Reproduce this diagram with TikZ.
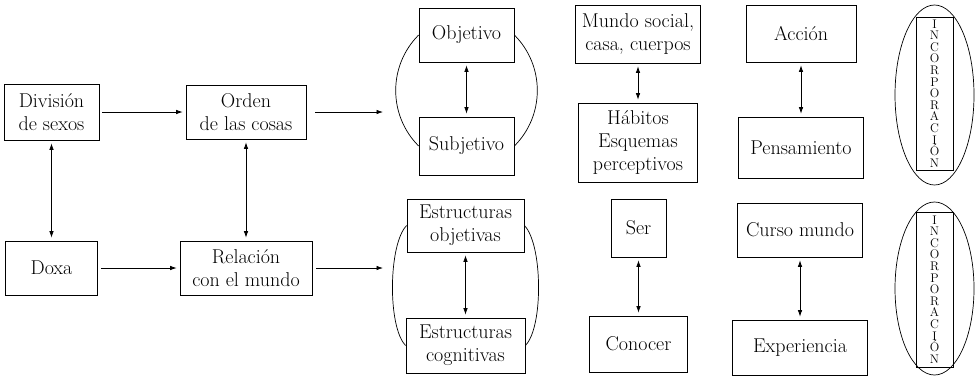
\documentclass[tikz,border=0pt]{standalone}
\usepackage{fontspec}
\usetikzlibrary{arrows, arrows.meta, positioning, shapes.geometric}

\begin{document}
\begin{tikzpicture}
  [x=1pt, y=-1pt, >={Latex[length=6.5pt, width=4.5pt]}, line width=0.7pt,
   caja/.style={draw, fill=white, align=center, inner sep=0pt,
     font=\fontsize{20}{23}\selectfont},
   vert/.style={draw, align=center, inner sep=0pt,
     font=\fontsize{12.5}{11.6}\selectfont},
   doble/.style={<->, shorten <=3pt, shorten >=3pt},
   paso/.style={->, shorten <=3pt, shorten >=3pt}]
  \useasboundingbox (0,0) rectangle (976,376);

  % primeras columnas
  \node (div) at (51.5,112) [caja, minimum width=95pt, minimum height=56pt] {División\\de sexos};
  \node (doxa) at (51.5,268) [caja, minimum width=92pt, minimum height=54pt] {Doxa};
  \node (orden) at (246,112) [caja, minimum width=120pt, minimum height=54pt] {Orden\\de las cosas};
  \node (rel) at (246,268) [caja, minimum width=132pt, minimum height=54pt] {Relación\\con el mundo};
  \coordinate (ent1) at (383,112);
  \coordinate (ent2) at (383,268);

  \draw [paso] (div) to (orden);
  \draw [paso] (doxa) to (rel);
  \draw [doble] (div) to (doxa);
  \draw [doble] (orden) to (rel);
  \draw [->, shorten <=9pt] (orden) to (ent1);
  \draw [->, shorten <=4pt] (rel) to (ent2);

  % pares con arcos
  \node (obj) at (466.5,35) [caja, minimum width=95pt, minimum height=54pt] {Objetivo};
  \node (subj) at (466.5,146) [caja, minimum width=95pt, minimum height=58pt] {Subjetivo};
  \node (eobj) at (465.5,225.5) [caja, minimum width=117pt, minimum height=53pt] {Estructuras\\objetivas};
  \node (ecog) at (465.5,345.5) [caja, minimum width=119pt, minimum height=55pt] {Estructuras\\cognitivas};
  \draw [doble] (obj) to (subj);
  \draw [doble] (eobj) to (ecog);
  \draw (obj.west) to [out=225, in=135] (subj.west);
  \draw (obj.east) to [out=-45, in=45] (subj.east);
  \draw (eobj.west) to [out=225, in=135, looseness=0.55] (ecog.west);
  \draw (eobj.east) to [out=-45, in=45, looseness=0.55] (ecog.east);

  % columnas de la derecha
  \node (mundo) at (638,34) [caja, minimum width=125pt, minimum height=58pt] {Mundo social,\\casa, cuerpos};
  \node (habitos) at (638,142.5) [caja, minimum width=119pt, minimum height=79pt] {Hábitos\\Esquemas\\perceptivos};
  \node (ser) at (638.5,228) [caja, minimum width=55pt, minimum height=58pt] {Ser};
  \node (conocer) at (638.5,344) [caja, minimum width=98pt, minimum height=56pt] {Conocer};
  \draw [doble] (mundo) to (habitos);
  \draw [doble] (ser) to (conocer);

  \node (accion) at (801,33.5) [caja, minimum width=110pt, minimum height=57pt] {Acción};
  \node (pens) at (801,147.5) [caja, minimum width=125pt, minimum height=61pt] {Pensamiento};
  \node (curso) at (800,230) [caja, minimum width=125pt, minimum height=54pt] {Curso mundo};
  \node (exp) at (800,347.5) [caja, minimum width=135pt, minimum height=55pt] {Experiencia};
  \draw [doble] (accion) to (pens);
  \draw [doble] (curso) to (exp);

  % incorporacion
  \node (elip1) at (934.5,95) [ellipse, draw, inner sep=0pt, minimum width=79pt, minimum height=180pt] {};
  \node (inc1) at (934.5,93.5) [vert, minimum width=37pt, minimum height=153pt] {I\\N\\C\\O\\R\\P\\O\\R\\A\\C\\I\\Ó\\N};
  \node (elip2) at (934.5,288.5) [ellipse, draw, inner sep=0pt, minimum width=79pt, minimum height=173pt] {};
  \node (inc2) at (934.5,289.5) [vert, minimum width=37pt, minimum height=155pt] {I\\N\\C\\O\\R\\P\\O\\R\\A\\C\\I\\Ó\\N};
\end{tikzpicture}
\end{document}
